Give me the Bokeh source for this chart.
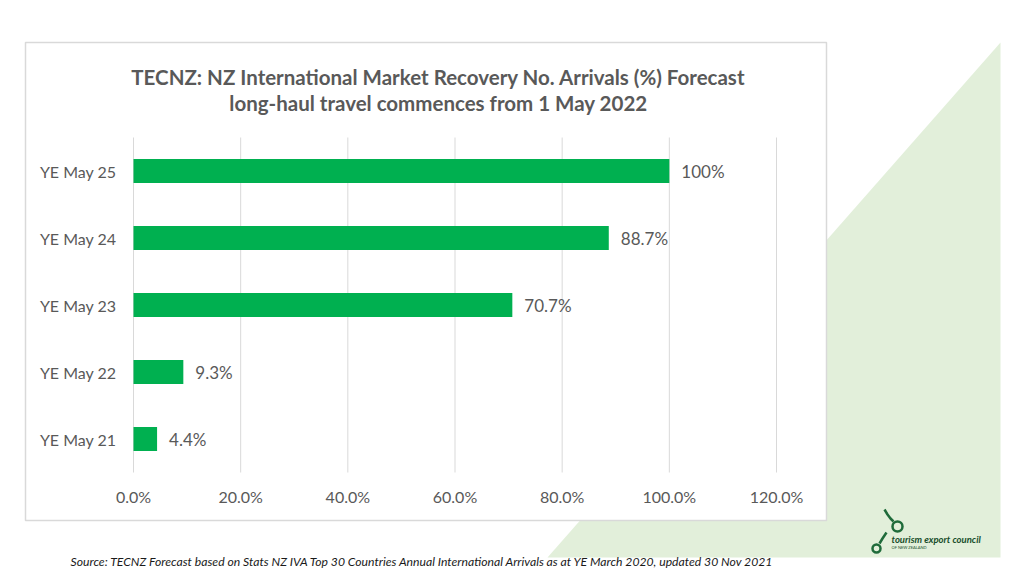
from bokeh.plotting import figure
from bokeh.models import (Range1d, LinearAxis, PrintfTickFormatter, ColumnDataSource,
                          FixedTicker)
from bokeh.core.properties import value
from bokeh.embed import file_html
from bokeh.resources import INLINE

# ---- data ----
categories = ["YE May 21", "YE May 22", "YE May 23", "YE May 24", "YE May 25"]
recovery_pct = [4.4, 9.3, 70.7, 88.7, 100.0]
x_ticks = [0, 20, 40, 60, 80, 100, 120]
title_line1 = "TECNZ: NZ International Market Recovery No. Arrivals (%) Forecast"
title_line2 = "long-haul travel commences from 1 May 2022"
source_note = ("Source: TECNZ Forecast based on Stats NZ IVA Top 30 Countries Annual "
               "International Arrivals as at YE March 2020, updated 30 Nov 2021")
logo_main = "tourism export council"
logo_sub = "OF NEW ZEALAND"

cat_pos = list(range(len(categories)))
value_labels = [f"{v:g}%" for v in recovery_pct]
src = ColumnDataSource(dict(pos=cat_pos, val=recovery_pct, lbl=value_labels))

TXT = "#595959"
FONT = "Lato"

# ---- page geometry (pixels); the plot frame covers the whole canvas ----
W, H = 1016, 568
FL, FR, FT, FB = 133, 776, 137, 472          # chart plotting area
X0, X1 = 0, 120
NCAT = len(categories)
x_scale = (FR - FL) / (X1 - X0)               # px per percent
y_step = (FB - FT) / NCAT                     # px per category

p = figure(width=W, height=H, x_range=Range1d(0, W), y_range=Range1d(H, 0),
           x_axis_type=None, y_axis_type=None, title=None,
           output_backend="svg", toolbar_location=None, min_border=0)
p.outline_line_color = None
p.background_fill_color = "white"
p.border_fill_color = "white"
p.grid.visible = False

pct_start = X0 - FL / x_scale
p.extra_x_ranges = {"pct": Range1d(pct_start, pct_start + W / x_scale)}
cat_bottom = (FB - H) / y_step - 0.5
cat_top = FB / y_step - 0.5
p.extra_y_ranges = {"cat": Range1d(cat_bottom, cat_top)}

# ---- decorations (page pixel space) ----
p.patch(x=[1000, 1000, 547], y=[42, 557, 557], fill_color="#e2efda", line_color=None)
p.quad(left=[25], right=[826], top=[42], bottom=[520], fill_color="white",
       line_color="#d9d9d9", line_width=1.5)

# ---- chart ----
# vertical gridlines at the x ticks
p.segment(x0=x_ticks, x1=x_ticks, y0=-0.5, y1=NCAT - 0.5,
          x_range_name="pct", y_range_name="cat",
          line_color="#d9d9d9", line_width=1)

p.hbar(y="pos", left=0, right="val", height=0.36, source=src,
       x_range_name="pct", y_range_name="cat",
       fill_color="#00b050", line_color=None)
p.text(x="val", y="pos", text="lbl", source=src, x_offset=12,
       x_range_name="pct", y_range_name="cat",
       text_baseline="middle", text_align="left",
       text_font=value(FONT), text_font_size="17px", text_color=TXT)

xaxis = LinearAxis(x_range_name="pct", fixed_location=FB,
                   ticker=FixedTicker(ticks=x_ticks),
                   formatter=PrintfTickFormatter(format="%.1f%%"))
yaxis = LinearAxis(y_range_name="cat", fixed_location=FL,
                   ticker=FixedTicker(ticks=cat_pos),
                   major_label_overrides={i: c for i, c in zip(cat_pos, categories)})
for ax in (xaxis, yaxis):
    ax.axis_line_color = None
    ax.major_tick_line_color = None
    ax.minor_tick_line_color = None
    ax.major_label_text_font = FONT
    ax.major_label_text_font_size = "16px"
    ax.major_label_text_color = TXT
xaxis.major_label_standoff = 8
yaxis.major_label_standoff = 11
p.add_layout(xaxis, "below")
p.add_layout(yaxis, "left")

# ---- texts (page pixel space) ----
p.text(x=[438, 438], y=[76, 102], text=[title_line1, title_line2],
       text_align="center", text_baseline="middle",
       text_font=value(FONT), text_font_style="bold", text_font_size="20.5px",
       text_color=TXT)
p.text(x=[70], y=[561], text=[source_note], text_align="left", text_baseline="middle",
       text_font=value(FONT), text_font_style="italic", text_font_size="12.2px",
       text_color="#1a1a1a")

# logo (approximation)
p.line(x=[884, 887, 890, 893], y=[509, 514, 518, 521], line_color="#1f6b3a",
       line_width=2.5)
p.line(x=[886, 882, 879], y=[532, 538, 543], line_color="#1f6b3a", line_width=2.5)
p.scatter(x=[897, 876], y=[526, 548], size=[10, 8], marker="circle",
          fill_color=None, line_color="#1f6b3a", line_width=2.5)
p.text(x=[891], y=[539], text=[logo_main], text_align="left", text_baseline="middle",
       text_font=value(FONT), text_font_style="bold italic", text_font_size="9.5px",
       text_color="#174d2a")
p.text(x=[891], y=[547], text=[logo_sub], text_align="left", text_baseline="middle",
       text_font=value(FONT), text_font_size="4px", text_color="#174d2a")

open("out.html", "w").write(file_html(p, INLINE))
